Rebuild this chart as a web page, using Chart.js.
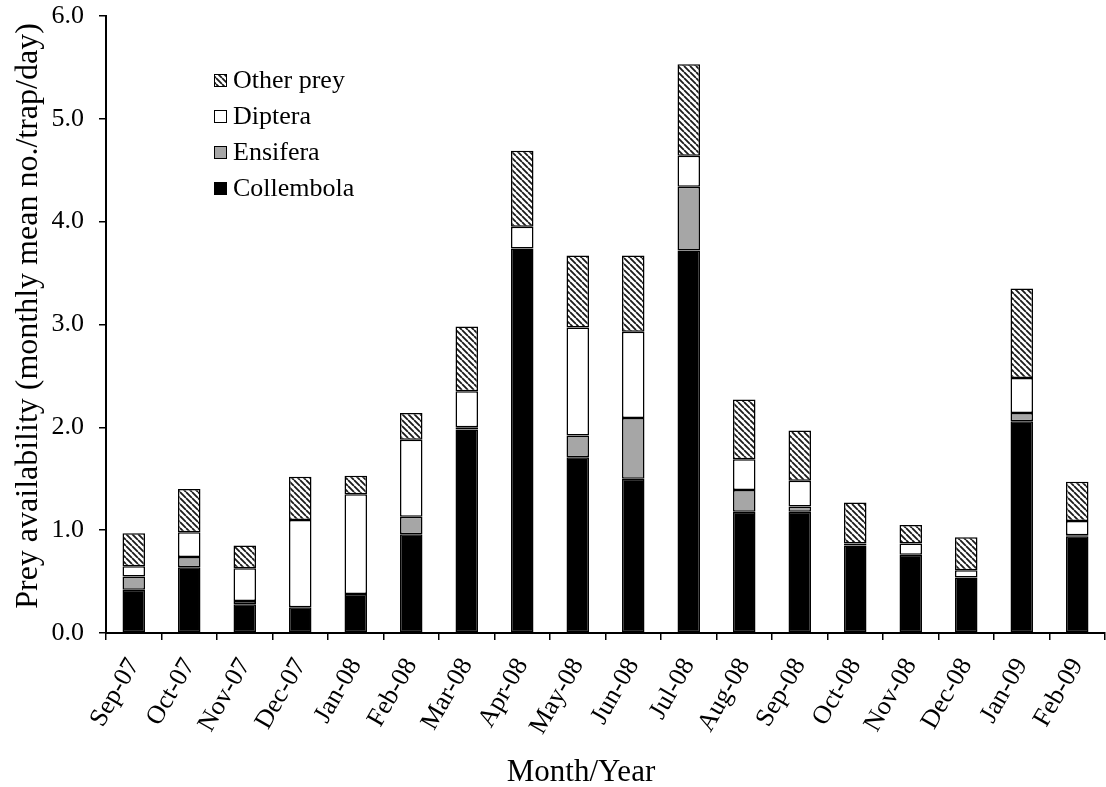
<!DOCTYPE html>
<html>
<head>
<meta charset="utf-8">
<script src="https://cdn.jsdelivr.net/npm/chart.js@4/dist/chart.umd.min.js"></script>
<style>
  html, body { margin: 0; padding: 0; background: #fff; }
  #wrap { width: 1106px; height: 787px; }
</style>
</head>
<body>
<div id="wrap"><canvas id="preyChart" width="1106" height="787"></canvas></div>
<script>
// Chart data
const months = ['Sep-07', 'Oct-07', 'Nov-07', 'Dec-07', 'Jan-08', 'Feb-08', 'Mar-08', 'Apr-08', 'May-08',
    'Jun-08', 'Jul-08', 'Aug-08', 'Sep-08', 'Oct-08', 'Nov-08', 'Dec-08', 'Jan-09', 'Feb-09'];
const collembola = [0.42, 0.64, 0.28, 0.25, 0.38, 0.96, 1.98, 3.74, 1.71, 1.50, 3.72, 1.18, 1.18, 0.85, 0.76, 0.54, 2.06, 0.94];
const ensifera   = [0.13, 0.10, 0.03, 0.00, 0.00, 0.17, 0.02, 0.00, 0.21, 0.59, 0.62, 0.21, 0.05, 0.00, 0.00, 0.00, 0.08, 0.01];
const diptera    = [0.10, 0.24, 0.32, 0.85, 0.97, 0.75, 0.35, 0.21, 1.05, 0.84, 0.30, 0.30, 0.25, 0.02, 0.11, 0.07, 0.34, 0.14];
const otherPrey  = [0.32, 0.42, 0.22, 0.42, 0.18, 0.26, 0.63, 0.74, 0.70, 0.74, 0.89, 0.58, 0.49, 0.40, 0.18, 0.32, 0.87, 0.38];
const yTicks = [0, 1, 2, 3, 4, 5, 6];

// diagonal hatch fill for "Other prey"
function makeHatch() {
    const c = document.createElement('canvas');
    c.width = 6;
    c.height = 6;
    const g = c.getContext('2d');
    g.fillStyle = '#fff';
    g.fillRect(0, 0, 6, 6);
    g.strokeStyle = '#1a1a1a';
    g.lineWidth = 1.8;
    g.beginPath();
    [-6, 0, 6].forEach(function(o) {
        g.moveTo(o, 0);
        g.lineTo(o + 6, 6);
    });
    g.stroke();
    return g.createPattern(c, 'repeat');
}
const hatch = makeHatch();

const serif = "'Liberation Serif', 'Times New Roman', serif";
Chart.defaults.font.family = serif;
Chart.defaults.color = '#000';

// legend drawn inside the plot, top entry first; plus the axis titles
const innerLegend = {
    id: 'innerLegend',
    afterDraw(chart) {
        const ctx = chart.ctx;
        const order = [3, 2, 1, 0];
        ctx.save();
        ctx.font = '26px ' + serif;
        ctx.textBaseline = 'middle';
        order.forEach(function(di, i) {
            const ds = chart.data.datasets[di];
            const y = 80 + i * 36;
            ctx.fillStyle = ds.backgroundColor;
            ctx.fillRect(214, y - 6, 13, 13);
            ctx.strokeStyle = '#000';
            ctx.lineWidth = 1;
            ctx.strokeRect(214.5, y - 5.5, 12, 12);
            ctx.fillStyle = '#000';
            ctx.fillText(ds.label, 233, y + 1);
        });
        ctx.font = '31px ' + serif;
        ctx.textAlign = 'center';
        ctx.fillText('Month/Year', 581, 773);
        ctx.translate(29, 316);
        ctx.rotate(-Math.PI / 2);
        ctx.font = '32px ' + serif;
        ctx.fillText('Prey availability (monthly mean no./trap/day)', 0, 0);
        ctx.restore();
    }
};

const barStyle = { borderColor: '#000', borderWidth: 1.5, borderSkipped: false, barPercentage: 0.405, categoryPercentage: 1 };

new Chart(document.getElementById('preyChart').getContext('2d'), {
    type: 'bar',
    data: {
        labels: months,
        datasets: [
            Object.assign({ label: 'Collembola', data: collembola, backgroundColor: '#000' }, barStyle),
            Object.assign({ label: 'Ensifera', data: ensifera, backgroundColor: '#a6a6a6' }, barStyle),
            Object.assign({ label: 'Diptera', data: diptera, backgroundColor: '#fff' }, barStyle),
            Object.assign({ label: 'Other prey', data: otherPrey, backgroundColor: hatch }, barStyle)
        ]
    },
    options: {
        responsive: false,
        animation: false,
        devicePixelRatio: 1,
        layout: { padding: { top: 16, left: 0, right: 1, bottom: 0 } },
        plugins: {
            legend: { display: false },
            tooltip: { enabled: false }
        },
        scales: {
            x: {
                stacked: true,
                grid: { drawOnChartArea: false, offset: true, tickLength: 7, color: '#000', lineWidth: 1.5 },
                border: { color: '#000', width: 2 },
                ticks: { font: { size: 26 }, minRotation: 60, maxRotation: 60, padding: 13, color: '#000' },
                afterFit(scale) {
                    scale.height = 154;
                    scale.paddingLeft = 0;
                    scale.paddingRight = 0;
                }
            },
            y: {
                stacked: true,
                min: 0,
                max: 6,
                afterBuildTicks(scale) {
                    scale.ticks = yTicks.map(v => ({ value: v }));
                },
                grid: { drawOnChartArea: false, tickLength: 7, color: '#000', lineWidth: 1.5 },
                border: { color: '#000', width: 2 },
                ticks: {
                    font: { size: 26 },
                    padding: 15,
                    color: '#000',
                    callback: v => v.toFixed(1)
                },
                afterFit(scale) {
                    scale.width = 106;
                    scale.paddingTop = 0;
                    scale.paddingBottom = 0;
                }
            }
        }
    },
    plugins: [innerLegend]
});
</script>
</body>
</html>
